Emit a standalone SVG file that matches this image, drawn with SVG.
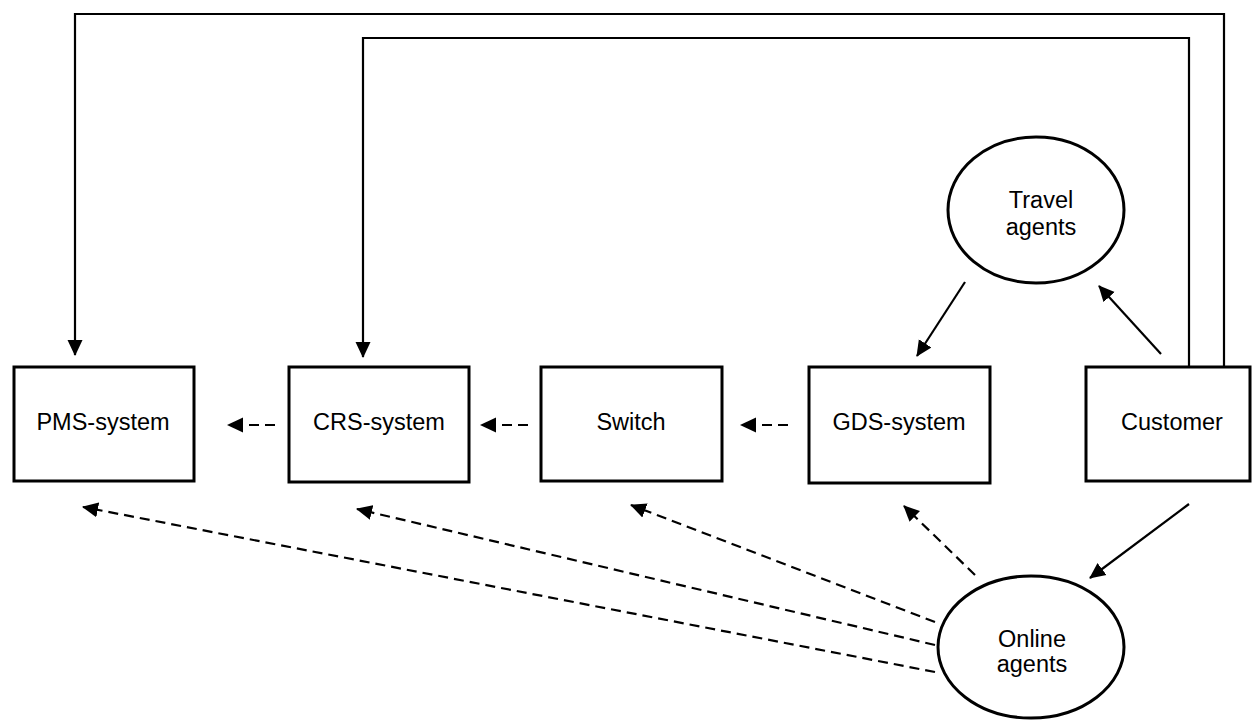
<svg xmlns="http://www.w3.org/2000/svg" width="1258" height="720" viewBox="0 0 1258 720">
<style>
.box{fill:#fff;stroke:#000;stroke-width:3}
.ell{fill:#fff;stroke:#000;stroke-width:3}
.lbl{font-family:"Liberation Sans",Arial,sans-serif;font-size:23.5px;fill:#000;text-anchor:middle}
.ln{fill:none;stroke:#000;stroke-width:2.2}
.dash{fill:none;stroke:#000;stroke-width:2.2;stroke-dasharray:10 6}
</style>
<defs>
<marker id="ah" markerUnits="userSpaceOnUse" markerWidth="17" markerHeight="16" refX="15" refY="8" orient="auto">
<path d="M0,0.5 L16,8 L0,15.5 z" fill="#000"/>
</marker>
</defs>
<g id="connectors">
<path class="ln" d="M1224,366 V14 H75 V355" marker-end="url(#ah)"/>
<path class="ln" d="M1189,369 V38 H363 V357" marker-end="url(#ah)"/>
<path class="ln" d="M965,282 L917,356" marker-end="url(#ah)"/>
<path class="ln" d="M1161,354 L1099,286" marker-end="url(#ah)"/>
<path class="ln" d="M1189,504 L1090,578" marker-end="url(#ah)"/>
<path class="dash" d="M275,425 H228" marker-end="url(#ah)"/>
<path class="dash" d="M528,425 H481" marker-end="url(#ah)"/>
<path class="dash" d="M788,425 H741" marker-end="url(#ah)"/>
<path class="dash" d="M975,575 L904,506" marker-end="url(#ah)"/>
<path class="dash" d="M935,622 L631,505" marker-end="url(#ah)"/>
<path class="dash" d="M935,645 L357,509" marker-end="url(#ah)"/>
<path class="dash" d="M935,672 L83,507" marker-end="url(#ah)"/>
</g>
<g id="pms"><rect class="box" x="14" y="367" width="180" height="114"/><text class="lbl" x="103" y="430">PMS-system</text></g>
<g id="crs"><rect class="box" x="289" y="367" width="180" height="115"/><text class="lbl" x="379" y="430">CRS-system</text></g>
<g id="switch"><rect class="box" x="541" y="367" width="181" height="114"/><text class="lbl" x="631" y="430">Switch</text></g>
<g id="gds"><rect class="box" x="809" y="367" width="181" height="116"/><text class="lbl" x="899" y="430">GDS-system</text></g>
<g id="customer"><rect class="box" x="1086" y="367" width="164" height="114"/><text class="lbl" x="1172" y="430">Customer</text></g>
<g id="travel"><ellipse class="ell" cx="1036" cy="210" rx="88" ry="73"/><text class="lbl" x="1041" y="208">Travel</text><text class="lbl" x="1041" y="235">agents</text></g>
<g id="online"><ellipse class="ell" cx="1031" cy="647" rx="93" ry="71"/><text class="lbl" x="1032" y="647">Online</text><text class="lbl" x="1032" y="672">agents</text></g>
</svg>
